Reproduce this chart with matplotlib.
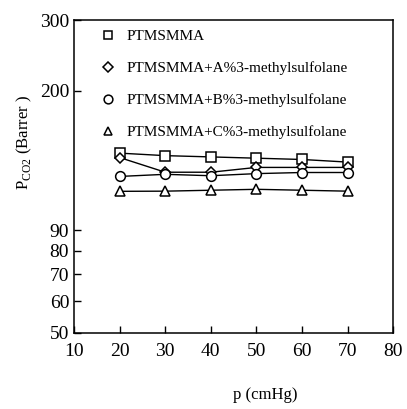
import numpy as np
import matplotlib.pyplot as plt
from matplotlib.lines import Line2D

plt.rcParams['font.family'] = ['Liberation Serif', 'DejaVu Serif']
plt.rcParams['mathtext.fontset'] = 'custom'
plt.rcParams['mathtext.rm'] = 'Liberation Serif'

# pressure (cmHg)
p = [20, 30, 40, 50, 60, 70]

# PCO2 (Barrer)
ptmsmma = [140, 138, 137, 136, 135, 133]
ptmsmma_a = [136.5, 125.5, 125.5, 129, 129, 129]
ptmsmma_b = [122.5, 124, 123, 124.5, 125.3, 125.3]
ptmsmma_c = [112.5, 112.6, 113.2, 113.8, 113.2, 112.6]

labels = ['PTMSMMA',
          'PTMSMMA+A%3-methylsulfolane',
          'PTMSMMA+B%3-methylsulfolane',
          'PTMSMMA+C%3-methylsulfolane']
markers = ['s', 'D', 'o', '^']
msizes = [7, 5.5, 7, 7]

yticks = [50, 60, 70, 80, 90, 200, 300]
xticks = [10, 20, 30, 40, 50, 60, 70, 80]

fig = plt.figure(figsize=(4.07, 4.09), dpi=100)
ax = fig.add_axes([0.182, 0.186, 0.784, 0.765])

series = [ptmsmma, ptmsmma_a, ptmsmma_b, ptmsmma_c]
for ys, m, ms in zip(series, markers, msizes):
    ax.plot(p, ys, color='k', lw=1.0, marker=m, ms=ms, mfc='white', mec='k', mew=1.1)

ax.set_yscale('log')
ax.set_ylim(50, 300)
ax.set_xlim(10, 80)
ax.set_yticks(yticks)
ax.set_yticklabels([str(t) for t in yticks])
ax.yaxis.set_minor_locator(plt.NullLocator())
ax.set_xticks(xticks)
ax.tick_params(direction='in', length=5, width=1, labelsize=14, colors='k')
ax.tick_params(axis='x', pad=7)
for s in ax.spines.values():
    s.set_linewidth(1.1)

ax.set_xlabel('p (cmHg)', fontsize=12)
ax.xaxis.set_label_coords(0.6, -0.173)
ax.set_ylabel(r'P$_{\mathrm{CO2}}$ (Barrer )', fontsize=12)
ax.yaxis.set_label_coords(-0.125, 0.61)

handles = [Line2D([], [], ls='none', marker=m, ms=ms * 0.9, mfc='white', mec='k', mew=1.1)
           for m, ms in zip(markers, msizes)]
ax.legend(handles, labels, loc='upper left', frameon=False, fontsize=11,
          handletextpad=0.2, labelspacing=1.2, borderaxespad=0.2,
          bbox_to_anchor=(0.03, 1.0))

fig.savefig('out.png', dpi=100)
